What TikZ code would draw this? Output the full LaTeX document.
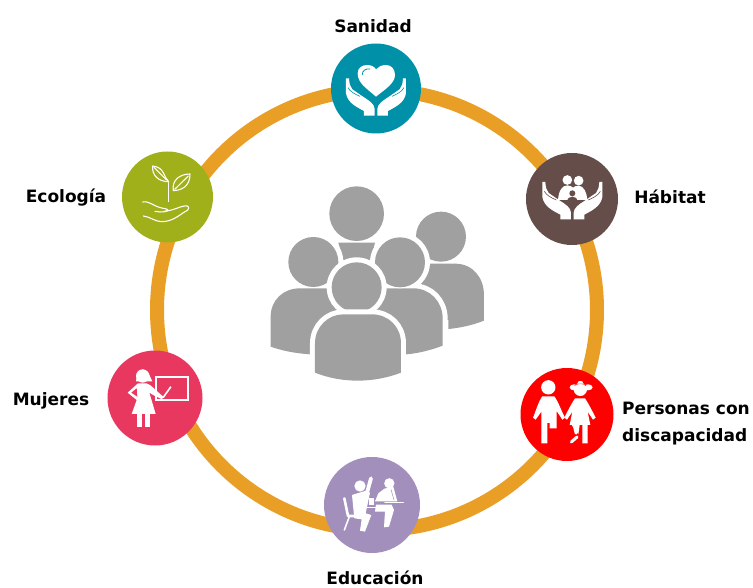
\documentclass[tikz,border=0pt]{standalone}
\usepackage{fontspec}
\setmainfont{DejaVu Sans}
\definecolor{ringc}{HTML}{E99F26}
\definecolor{teal}{HTML}{0090A8}
\definecolor{brownc}{HTML}{654D4A}
\definecolor{redc}{HTML}{FF0000}
\definecolor{purp}{HTML}{A28FBC}
\definecolor{pink}{HTML}{E8385F}
\definecolor{greenc}{HTML}{A0B01B}
\definecolor{peop}{HTML}{A0A0A0}
\tikzset{
  x=1pt,y=-1pt,
  disc/.style={circle,inner sep=0pt,minimum size=#1*2pt},
  lab/.style={font=\bfseries\fontsize{17}{27}\selectfont,text=black,inner sep=0pt,align=left},
  zoomed/.style={shift={(#1)},x=0.3333pt,y=-0.3333pt},
  halo/.style={draw=white,fill=white,line width=10pt,line join=round},
  wline/.style={draw=white,line cap=round,line join=round},
  hand/.pic={
    \fill[white] (-90,-112) -- (-81,-112) .. controls (-80,-97) and (-78,-87) .. (-71,-79)
      -- (-36,-55) .. controls (-20,-45) and (-5,-35) .. (-4,-20) -- (-4,0) -- (-36,0) -- (-36,-14)
      .. controls (-58,-26) and (-85,-38) .. (-90,-67) -- cycle;
    \draw[line width=0.6pt,draw=#1] (-84,-84) .. controls (-78,-72) and (-62,-64) .. (-48,-58);
    \begin{scope}[xscale=-1]
    \fill[white] (-90,-112) -- (-81,-112) .. controls (-80,-97) and (-78,-87) .. (-71,-79)
      -- (-36,-55) .. controls (-20,-45) and (-5,-35) .. (-4,-20) -- (-4,0) -- (-36,0) -- (-36,-14)
      .. controls (-58,-26) and (-85,-38) .. (-90,-67) -- cycle;
    \draw[line width=0.6pt,draw=#1] (-84,-84) .. controls (-78,-72) and (-62,-64) .. (-48,-58);
    \end{scope}
  }
}
\begin{document}
\begin{tikzpicture}
\useasboundingbox (0,0) rectangle (753,588);
% ring
\node[circle,draw=ringc,line width=14pt,minimum size=440pt,inner sep=0pt] (ring) at (377,310) {};
% discs
\node[disc=45,fill=teal] (sanidad) at (376,88.5) {};
\node[disc=46,fill=brownc] (habitat) at (572,199) {};
\node[disc=46.5,fill=redc] (personas) at (567,414.5) {};
\node[disc=48,fill=purp] (educacion) at (372,505) {};
\node[disc=47.5,fill=pink] (mujeres) at (155,398) {};
\node[disc=45.5,fill=greenc] (ecologia) at (167.5,197) {};
% labels
\node[lab] (lsan) at (373,26) {Sanidad};
\node[lab] (lhab) at (670,197) {Hábitat};
\node[lab] (leco) at (66,198) {Ecología};
\node[lab] (lmuj) at (51,401) {Mujeres};
\node[lab,anchor=west] (lper) at (622,424) {Personas con\\discapacidad};
\node[lab] (ledu) at (375,578) {Educación};
% people
\begin{scope}[zoomed={260,180}]
  % back person
  \fill[peop] (543,170) circle (75);
  \fill[peop] (505,251) -- (585,251) .. controls (640,251) and (672,295) .. (672,345) -- (672,422)
     .. controls (640,435) and (600,444) .. (565,447) -- (565,420) -- (450,420) -- (450,251) -- cycle;
  % top person
  \fill[peop] (290,101) circle (82);
  \fill[peop] (235,188) -- (345,188) -- (332,240) -- (250,240) -- cycle;
  % left middle person
  \fill[white] (160,246) circle (90);
  \fill[peop] (160,246) circle (75);
  \fill[peop] (32,500) -- (32,410) .. controls (32,360) and (70,325) .. (120,325) -- (215,325) -- (260,400) -- (150,523)
     .. controls (105,520) and (65,512) .. (32,500) -- cycle;
  % right middle person
  \fill[white] (420,247) circle (90);
  \path[halo] (330,325) -- (460,325) .. controls (510,325) and (548,365) .. (548,415) -- (548,497)
     .. controls (515,510) and (475,520) .. (440,523) -- (330,523) -- cycle;
  \fill[white] (320,500) rectangle (600,560);
  \fill[peop] (330,325) -- (460,325) .. controls (510,325) and (548,365) .. (548,415) -- (548,497)
     .. controls (515,510) and (475,520) .. (440,523) -- (330,523) -- cycle;
  \fill[white] (420,247) circle (78);
  \fill[peop] (420,247) circle (75);
  % front person
  \fill[white] (290,322) circle (90);
  \fill[peop] (290,322) circle (75);
  \path[halo] (165,578) -- (165,490) .. controls (165,440) and (205,403) .. (250,403) -- (335,403)
     .. controls (385,403) and (423,440) .. (423,490) -- (423,578)
     .. controls (340,610) and (245,610) .. (165,578) -- cycle;
  \fill[white] (140,560) rectangle (450,630);
  \fill[peop] (165,540) -- (165,490) .. controls (165,440) and (205,403) .. (250,403) -- (335,403)
     .. controls (385,403) and (423,440) .. (423,490) -- (423,578)
     .. controls (340,610) and (245,610) .. (165,578) -- cycle;
\end{scope}
% Sanidad icon
\begin{scope}[zoomed={310,30}]
  \fill[white] (198,200) .. controls (170,175) and (143,160) .. (143,130) .. controls (143,112) and (158,105) .. (172,105)
    .. controls (185,105) and (195,112) .. (198,118) .. controls (205,110) and (215,105) .. (228,105)
    .. controls (245,105) and (255,118) .. (255,135) .. controls (255,160) and (225,178) .. (198,200) -- cycle;
  \draw[teal,line width=0.8pt,line cap=round] (157,134) .. controls (156,122) and (168,115) .. (180,117);
  \pic at (198,257) {hand=teal};
\end{scope}
% Habitat icon
\begin{scope}[zoomed={510,140}]
  \pic at (187,238) {hand=brownc};
  \fill[white] (172,120) circle (14.5) (206,122) circle (14.5);
  \fill[white] (144,180) .. controls (146,155) and (155,136) .. (172,136) .. controls (180,136) and (186,140) .. (189,143)
    .. controls (192,140) and (198,137) .. (206,137) .. controls (222,137) and (231,160) .. (232,180) -- cycle;
  \fill[brownc] (187,160) circle (9);
  \fill[brownc] (170,184) .. controls (172,175) and (178,170) .. (187,170) .. controls (196,170) and (202,175) .. (204,184) -- cycle;
\end{scope}
% Personas icon
\begin{scope}[zoomed={505,355}]
  \fill[white] (130,97) circle (21.5);
  \fill[white] (112,124) -- (148,124) .. controls (160,140) and (170,170) .. (180,188) -- (172,194) -- (155,168) -- (155,220) -- (134,220) -- (134,204) -- (127,204) -- (127,265) -- (109,265) -- (109,170) -- (92,194) -- (84,188) .. controls (92,170) and (100,140) .. (112,124) -- cycle;
  \fill[white] (207,97) ellipse (13 and 9) (249,97) ellipse (14 and 9);
  \fill[white] (226,103) circle (20);
  \draw[redc,line width=0.5pt] (209,92) .. controls (214,84) and (238,84) .. (243,92);
  \fill[white] (226,82) ellipse (8 and 4);
  \fill[white] (210,130) -- (240,130) .. controls (250,145) and (262,168) .. (272,188) -- (264,194) -- (248,170) -- (256,210) -- (248,210) -- (248,265) -- (232,265) -- (232,210) -- (224,210) -- (220,238) -- (200,210) -- (194,210) -- (202,170) -- (186,194) -- (178,188) .. controls (188,168) and (200,145) .. (210,130) -- cycle;
  \draw[white,line width=2.6pt,line cap=round] (207,210) -- (213,235);
  \draw[white,line width=3pt,line cap=round] (199,261) -- (216,246);
\end{scope}
% Educacion icon
\begin{scope}[zoomed={310,450}]
  \fill[white] (150,108) circle (17);
  \draw[wline,line width=3.8pt] (183,85) -- (172,125);
  \fill[white] (126,135) -- (168,122) -- (180,128) -- (167,190) -- (184,195) -- (165,245) -- (150,242) -- (155,208) -- (133,205) -- cycle;
  \draw[wline,line width=2.6pt] (103,145) -- (114,198) -- (145,198);
  \draw[wline,line width=1.6pt] (118,200) -- (103,240);
  \draw[wline,line width=1.5pt] (167,172) -- (222,172);
  \draw[wline,line width=1.5pt] (225,158) -- (280,158);
  \fill[white] (238,100) circle (15.5);
  \fill[white] (223,116) -- (250,110) -- (262,154) -- (195,154) -- (205,130) -- cycle;
  \fill[white] (198,164) -- (245,164) -- (252,180) -- (237,230) -- (222,232) -- (225,185) -- (195,185) -- cycle;
  \fill[white] (178,145) rectangle (193,165);
  \draw[purp,line width=0.5pt] (243,118) -- (252,150);
\end{scope}
% Mujeres icon
\begin{scope}[zoomed={100,340}]
  \fill[white] (128,108) circle (20);
  \fill[white] (108,124) -- (112,100) -- (128,88) -- (145,98) -- (157,124) -- cycle;
  \fill[white] (114,130) -- (140,130) .. controls (155,135) and (165,150) .. (190,170) -- (186,178) .. controls (170,170) and (158,165) .. (148,158) -- (167,222) -- (95,222) -- (110,180) -- (83,158) -- cycle;
  \fill[pink] (94,158) -- (110,145) -- (112,170) -- cycle;
  \fill[white] (110,222) rectangle (125,262);
  \fill[white] (135,222) rectangle (150,262);
  \draw[white,line width=2pt] (167,112) rectangle (265,180);
  \draw[white,line width=1.6pt,line cap=round] (190,172) -- (212,141);
\end{scope}
% Ecologia icon
\begin{scope}[zoomed={110,140}]
  \tikzset{every path/.style={wline,line width=1.1pt}}
  \draw (176,185) -- (176,128);
  \draw (176,125) .. controls (160,112) and (165,82) .. (128,78) .. controls (125,105) and (145,125) .. (176,125) -- cycle;
  \draw (132,82) -- (170,120);
  \draw (190,152) .. controls (230,150) and (240,125) .. (240,102) .. controls (210,102) and (185,120) .. (190,152) -- cycle;
  \draw (235,108) -- (194,148);
  \draw (98,186) .. controls (120,182) and (130,200) .. (160,205) .. controls (175,207) and (180,212) .. (165,215) .. controls (155,217) and (145,216) .. (135,214);
  \draw (165,213) .. controls (190,213) and (215,195) .. (232,198) .. controls (240,202) and (235,212) .. (225,215) .. controls (205,228) and (185,245) .. (155,245) .. controls (135,245) and (120,230) .. (100,228);
\end{scope}
\end{tikzpicture}
\end{document}
